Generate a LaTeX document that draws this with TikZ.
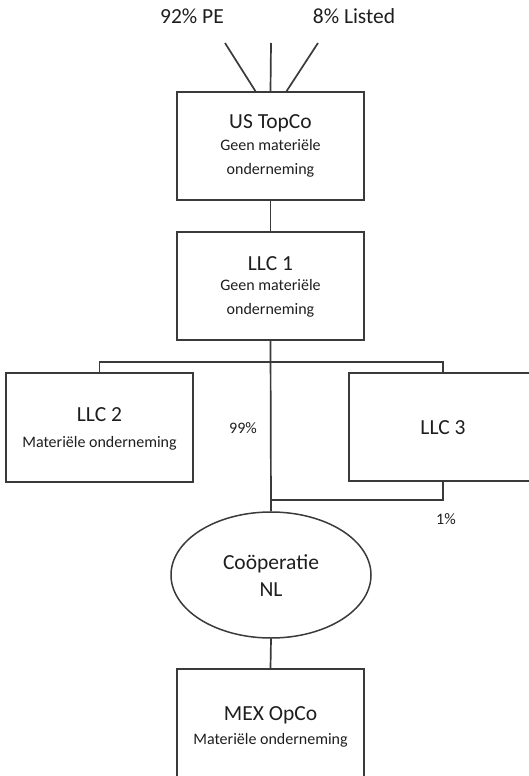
\documentclass[tikz,border=0pt]{standalone}
\usepackage{fontspec}
\setmainfont{Carlito}
\usetikzlibrary{shapes.geometric}
\definecolor{linec}{HTML}{3A3A3A}
\definecolor{textc}{HTML}{1E1E1E}
\begin{document}
\begin{tikzpicture}[x=1pt,y=-1pt,
  conn/.style={draw=linec,line width=1.7pt},
  entity/.style={draw=linec,line width=1.5pt,rectangle,minimum width=187pt,minimum height=108pt,inner sep=0pt},
  coop/.style={draw=linec,line width=1.5pt,ellipse,minimum width=200pt,minimum height=126pt,inner sep=0pt},
  title/.style={text=textc,font=\fontsize{21.5}{26}\selectfont,inner sep=0pt},
  sub/.style={text=textc,font=\fontsize{16}{24}\selectfont,align=center,inner sep=0pt},
  pct/.style={text=textc,font=\fontsize{16}{18}\selectfont,inner sep=0pt}]
\useasboundingbox (0,0) rectangle (529,776);
\clip (0,0) rectangle (529,776);

% shareholders
\node[title] (pe) at (192,16) {92\% PE};
\node[title] (listed) at (354,16) {8\% Listed};
\coordinate (peend) at (225,43);
\coordinate (midend) at (271,43);
\coordinate (listend) at (318,43);

% entities
\node[entity] (topco) at (270.5,146) {};
\node[title] (topcot) at (270.5,123.5) {US TopCo};
\node[sub] (topcos) at (270.5,158) {Geen materiële\\onderneming};

\node[entity] (llc1) at (270.5,286) {};
\node[title] (llc1t) at (270.5,263.5) {LLC 1};
\node[sub] (llc1s) at (270.5,298) {Geen materiële\\onderneming};

\node[entity,minimum height=109pt] (llc2) at (99.5,427.5) {};
\node[title] (llc2t) at (99.5,415) {LLC 2};
\node[sub] (llc2s) at (99.5,443) {Materiële onderneming};

\node[entity,minimum width=188pt] (llc3) at (443,427) {};
\node[title] (llc3t) at (443,428) {LLC 3};

\node[coop] (nl) at (271,575) {};
\node[sub,font=\fontsize{21.5}{27}\selectfont] (nlt) at (271,576) {Coöperatie\\NL};

\node[entity,minimum height=109pt] (mex) at (270.5,723.5) {};
\node[title] (mext) at (270.5,715) {MEX OpCo};
\node[sub] (mexs) at (270.5,740.5) {Materiële onderneming};

% ownership lines
\draw[conn] (peend) -- ([xshift=-15pt]topco.north);
\draw[conn] (midend) -- (topco.north);
\draw[conn] (listend) -- ([xshift=16pt]topco.north);
\draw[conn] (topco.south) -- (llc1.south |- llc1.north);
\draw[conn] (llc1.south) -- (nl.north);
\coordinate (bar) at (271,362);
\draw[conn] (llc2.north) |- (bar) -| (llc3.north);
\coordinate (join) at (271,500);
\draw[conn] (llc3.south) |- (join);
\draw[conn] (nl.south) -- (mex.north);

% percentages
\node[pct] (p99) at (243,428) {99\%};
\node[pct] (p1) at (446,519) {1\%};
\end{tikzpicture}
\end{document}
